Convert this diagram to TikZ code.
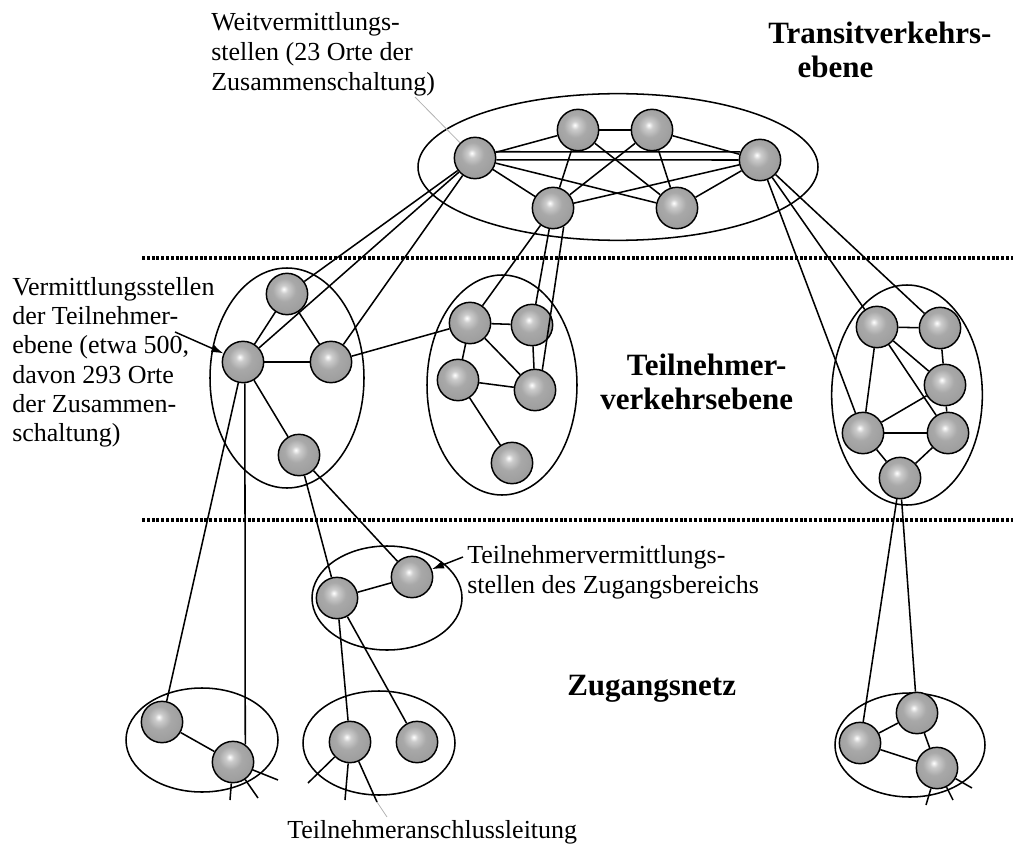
\documentclass[tikz,border=0pt]{standalone}
\usepackage{fontspec}
\setmainfont{Liberation Serif}
\usetikzlibrary{arrows.meta,calc}
\pgfdeclareradialshading{sphereshade}{\pgfpoint{-4bp}{6bp}}{%
  color(0bp)=(white); color(5bp)=(gray!40); color(14bp)=(gray!68);
  color(30bp)=(gray!78); color(50bp)=(gray!85); color(75bp)=(gray!88)}
\begin{document}
\begin{tikzpicture}[x=0.75pt,y=-0.75pt,
  nd/.style={circle, draw=black, line width=1.1pt, minimum size=31pt, inner sep=0pt, shading=sphereshade},
  link/.style={line width=1.15pt},
  thicklink/.style={line width=2pt},
  ell/.style={line width=1.15pt},
  sep/.style={line width=2.4pt, dash pattern=on 2.2pt off 1.4pt},
  lbl/.style={inner sep=0pt, align=left, font=\fontsize{19.5}{22.5}\selectfont},
  blbl/.style={inner sep=0pt, align=left, font=\fontsize{23.25}{25}\selectfont\bfseries},
  pointer/.style={-{Latex[length=9pt,width=6pt]}, line width=1.1pt},
  faint/.style={line width=0.6pt, gray!60}]
\useasboundingbox (0,0) rectangle (1013,852);

% ellipses (clusters)
\draw[ell] (618,167) ellipse [x radius=150pt, y radius=55pt];
\draw[ell] (287,378) ellipse [x radius=57.75pt, y radius=82.5pt];
\draw[ell] (502,385) ellipse [x radius=56.25pt, y radius=82.5pt];
\draw[ell] (907,395) ellipse [x radius=56.5pt, y radius=82.5pt];
\draw[ell] (387,598) ellipse [x radius=56.25pt, y radius=39pt];
\draw[ell] (202,740) ellipse [x radius=57pt, y radius=39pt];
\draw[ell] (379,743) ellipse [x radius=57pt, y radius=39pt];
\draw[ell] (910,745) ellipse [x radius=56.25pt, y radius=39pt];

% level separators
\coordinate (s1a) at (142,258); \coordinate (s1b) at (1013,258);
\coordinate (s2a) at (142,520); \coordinate (s2b) at (1013,520);
\draw[sep] (s1a) -- (s1b);
\draw[sep] (s2a) -- (s2b);

% nodes
\node[nd] (T1) at (475,158) {};
\node[nd] (T2) at (578,130) {};
\node[nd] (T3) at (652,130) {};
\node[nd] (T4) at (760,160) {};
\node[nd] (T5) at (553,208) {};
\node[nd] (T6) at (677,208) {};

\node[nd] (L1) at (287,294) {};
\node[nd] (L2) at (243,362) {};
\node[nd] (L3) at (331,362) {};
\node[nd] (L4) at (299,455) {};

\node[nd] (M1) at (470,323) {};
\node[nd] (M2) at (532,325) {};
\node[nd] (M3) at (458,380) {};
\node[nd] (M4) at (535,390) {};
\node[nd] (M5) at (512,463) {};

\node[nd] (R1) at (877,327) {};
\node[nd] (R2) at (940,328) {};
\node[nd] (R3) at (945,385) {};
\node[nd] (R4) at (863,433) {};
\node[nd] (R5) at (948,433) {};
\node[nd] (R6) at (900,478) {};

\node[nd] (SM1) at (337,598) {};
\node[nd] (SM2) at (412,577) {};

\node[nd] (BL1) at (162,722) {};
\node[nd] (BL2) at (233,762) {};
\node[nd] (BM1) at (350,742) {};
\node[nd] (BM2) at (417,742) {};
\node[nd] (BR1) at (860,743) {};
\node[nd] (BR2) at (917,713) {};
\node[nd] (BR3) at (937,768) {};

% top mesh
\draw[link] (T1) -- (T2);
\draw[link] (T1.17) -- (T4.158);
\draw[link] (T1.-5) -- (T4.180);
\draw[thicklink] (T2) -- (T3);
\draw[link] (T3) -- (T4);
\draw[link] (T1) -- (T5);
\draw[link] (T1) -- (T6);
\draw[link] (T2) -- (T5);
\draw[link] (T2) -- (T6);
\draw[link] (T3) -- (T5);
\draw[link] (T3) -- (T6);
\draw[link] (T4) -- (T5);
\draw[link] (T4) -- (T6);

% top to subscriber level
\draw[link] (T1) -- (L1);
\draw[link] (T1) -- (L2);
\draw[link] (T1) -- (L3);
\draw[link] (T5) -- (M1);
\draw[link] (T5) -- (M2);
\draw[link] (T5.-60) -- (M4.70);
\draw[link] (T4) -- (R1);
\draw[link] (T4) -- (R2);
\draw[link] (T4) -- (R4);

% left cluster
\draw[link] (L1) -- (L2);
\draw[link] (L1) -- (L3);
\draw[link] (L2) -- (L3);
\draw[link] (L2) -- (L4);
\draw[link] (L3) -- (M1);

% middle cluster
\draw[link] (M1) -- (M2);
\draw[link] (M1) -- (M3);
\draw[link] (M1) -- (M4);
\draw[link] (M2) -- (M4);
\draw[link] (M3) -- (M4);
\draw[link] (M3) -- (M5);

% right cluster
\draw[link] (R1) -- (R2);
\draw[link] (R1) -- (R3);
\draw[link] (R1) -- (R4);
\draw[link] (R1) -- (R5);
\draw[link] (R2) -- (R3);
\draw[link] (R3) -- (R4);
\draw[link] (R3) -- (R5);
\draw[link] (R4) -- (R5);
\draw[link] (R4) -- (R6);
\draw[link] (R5) -- (R6);

% down to access network
\draw[link] (L2) -- (BL1);
\draw[link] (L2.-85) -- (BL2.55);
\draw[link] (L4) -- (SM1);
\draw[link] (L4) -- (SM2);
\draw[link] (SM1) -- (SM2);
\draw[link] (SM1) -- (BM1);
\draw[link] (SM1) -- (BM2);
\draw[link] (R6) -- (BR1);
\draw[link] (R6) -- (BR2);

% access clusters
\draw[link] (BL1) -- (BL2);
\draw[link] (BR1) -- (BR2);
\draw[link] (BR1) -- (BR3);
\draw[link] (BR2) -- (BR3);

% subscriber lines (stubs)
\coordinate (bl2a) at (230,800);
\coordinate (bl2b) at (258,798);
\coordinate (bl2c) at (278,780);
\draw[link] (BL2) -- (bl2a);
\draw[link] (BL2) -- (bl2b);
\draw[link] (BL2) -- (bl2c);
\coordinate (bm1a) at (308,783);
\coordinate (bm1b) at (345,800);
\coordinate (bm1c) at (377,802);
\coordinate (bm1d) at (387,817);
\draw[link] (BM1) -- (bm1a);
\draw[link] (BM1) -- (bm1b);
\draw[link] (BM1) -- (bm1c);
\draw[faint] (bm1c) -- (bm1d);
\coordinate (br3a) at (972,788);
\coordinate (br3b) at (953,800);
\coordinate (br3c) at (926,805);
\draw[link] (BR3) -- (br3a);
\draw[link] (BR3) -- (br3b);
\draw[link] (BR3) -- (br3c);

% labels
\node[lbl, anchor=north west] (wv) at (211,12)
  {Weitvermittlungs-\\stellen (23 Orte der\\Zusammenschaltung)};
\coordinate (wvp) at (415,97);
\draw[faint] (wvp) -- (T1);

\node[blbl, anchor=north west] (tv) at (768,22)
  {Transitverkehrs-\\\hspace*{22pt}ebene};

\node[lbl, anchor=north west, font=\fontsize{19.5}{22}\selectfont] (vs) at (12,277)
  {Vermittlungsstellen\\der Teilnehmer-\\ebene (etwa 500,\\davon 293 Orte\\der Zusammen-\\schaltung)};
\coordinate (vsp) at (175,332);
\draw[pointer] (vsp) -- (L2);

\node[blbl, anchor=north west] (tn) at (600,354)
  {\hspace*{20pt}Teilnehmer-\\verkehrsebene};

\node[lbl, anchor=north west] (tz) at (467,545)
  {Teilnehmervermittlungs-\\stellen des Zugangsbereichs};
\coordinate (tzp) at (463,557);
\draw[pointer] (tzp) -- (SM2);

\node[blbl, anchor=base west] (zn) at (567,695) {Zugangsnetz};

\node[lbl, anchor=base west] (tal) at (287,838) {Teilnehmeranschlussleitung};
\end{tikzpicture}
\end{document}
